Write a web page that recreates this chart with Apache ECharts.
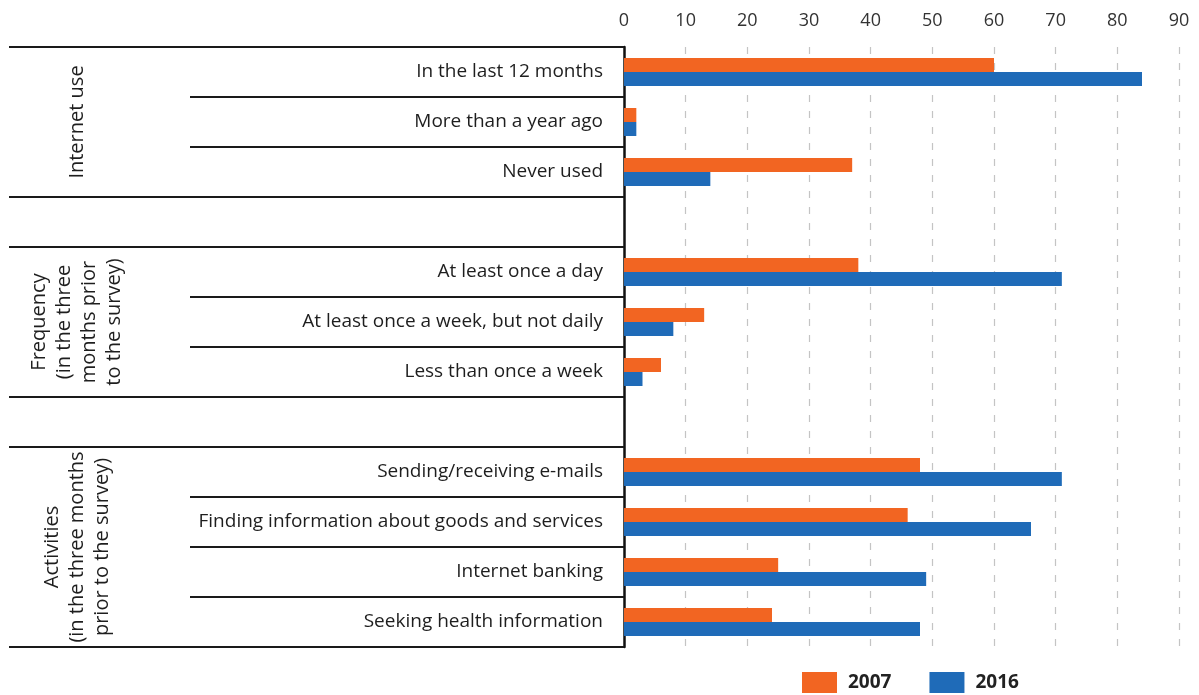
<!DOCTYPE html>
<html>
<head>
<meta charset="utf-8">
<script src="https://cdn.jsdelivr.net/npm/echarts@6/dist/echarts.min.js"></script>
<style>
html,body{margin:0;padding:0;background:#fff;}
#chart{width:1199px;height:695px;}
</style>
</head>
<body>
<div id="chart"></div>
<script>
const categories = [
  'In the last 12 months',
  'More than a year ago',
  'Never used',
  ' ',
  'At least once a day',
  'At least once a week, but not daily',
  'Less than once a week',
  '  ',
  'Sending/receiving e-mails',
  'Finding information about goods and services',
  'Internet banking',
  'Seeking health information'
];
const values2007 = [60, 2, 37, null, 38, 13, 6, null, 48, 46, 25, 24];
const values2016 = [84, 2, 14, null, 71, 8, 3, null, 71, 66, 49, 48];
const seriesNames = ['2007', '2016'];
const groupLabels = [
  'Internet use',
  'Frequency\n(in the three\nmonths prior\nto the survey)',
  'Activities\n(in the three months\nprior to the survey)'
];
const groupStart = [0, 4, 8];
const groupEnd = [3, 7, 12];
const axisTicks = { min: 0, max: 90, interval: 10 };

const FONT = '"Open Sans", "Noto Sans", sans-serif';
const ORANGE = '#f26522';
const BLUE = '#1f6bb8';

const chart = echarts.init(document.getElementById('chart'), null, { renderer: 'canvas' });
chart.setOption({
  animation: false,
  backgroundColor: '#ffffff',
  grid: { left: 624, right: 20, top: 47, bottom: 48, containLabel: false },
  legend: {
    data: seriesNames,
    left: 802, top: 672, padding: 0,
    itemWidth: 35, itemHeight: 21, itemGap: 38,
    icon: 'rect',
    textStyle: { fontFamily: FONT, fontSize: 19, fontWeight: 'bold', color: '#222', padding: [0, 0, 0, 6] }
  },
  xAxis: {
    type: 'value',
    position: 'top',
    min: axisTicks.min, max: axisTicks.max, interval: axisTicks.interval,
    axisLine: { show: false },
    axisTick: { show: false },
    axisLabel: { fontFamily: FONT, fontSize: 18, color: '#333', margin: 17 },
    splitLine: {
      show: true,
      lineStyle: { color: '#c4c4c4', type: [7, 9], width: 1.2 }
    }
  },
  yAxis: {
    type: 'category',
    inverse: true,
    data: categories,
    axisLine: { show: true, lineStyle: { color: '#111', width: 2.5 } },
    axisTick: { show: false },
    axisLabel: { fontFamily: FONT, fontSize: 19, color: '#1e1e1e', margin: 21 },
    splitLine: { show: false }
  },
  series: [
    { name: seriesNames[0], type: 'bar', data: values2007, barWidth: 14, barGap: '0%', itemStyle: { color: ORANGE }, z: 3 },
    { name: seriesNames[1], type: 'bar', data: values2016, barWidth: 14, barGap: '0%', itemStyle: { color: BLUE }, z: 3 }
  ]
});

// Table rules and group labels, positioned from the category axis scale
const p0 = chart.convertToPixel({ yAxisIndex: 0 }, 0);
const p1 = chart.convertToPixel({ yAxisIndex: 0 }, 1);
const half = (p1 - p0) / 2;
const axisX = chart.convertToPixel({ xAxisIndex: 0 }, 0);
const TABLE_LEFT = 9;
const INNER_LEFT = 190;
const fullBoundaries = new Set();
groupStart.forEach(s => fullBoundaries.add(s));
groupEnd.forEach(e => fullBoundaries.add(e));
const graphics = [];
for (let i = 0; i <= categories.length; i++) {
  const y = (i < categories.length ? chart.convertToPixel({ yAxisIndex: 0 }, i) : chart.convertToPixel({ yAxisIndex: 0 }, categories.length - 1) + 2 * half) - half;
  const x1 = fullBoundaries.has(i) ? TABLE_LEFT : INNER_LEFT;
  graphics.push({
    type: 'line',
    shape: { x1: x1, y1: y, x2: axisX, y2: y },
    style: { stroke: '#1a1a1a', lineWidth: 1.8 },
    z: 10
  });
}
groupLabels.forEach((label, g) => {
  const yTop = chart.convertToPixel({ yAxisIndex: 0 }, groupStart[g]) - half;
  const yBot = chart.convertToPixel({ yAxisIndex: 0 }, groupEnd[g] - 1) + half;
  graphics.push({
    type: 'text',
    x: 77, y: (yTop + yBot) / 2,
    rotation: Math.PI / 2,
    style: {
      text: label,
      fontFamily: FONT, fontSize: 20, fill: '#1e1e1e',
      align: 'center', verticalAlign: 'middle', lineHeight: 25
    },
    z: 10
  });
});
chart.setOption({ graphic: graphics });
</script>
</body>
</html>
